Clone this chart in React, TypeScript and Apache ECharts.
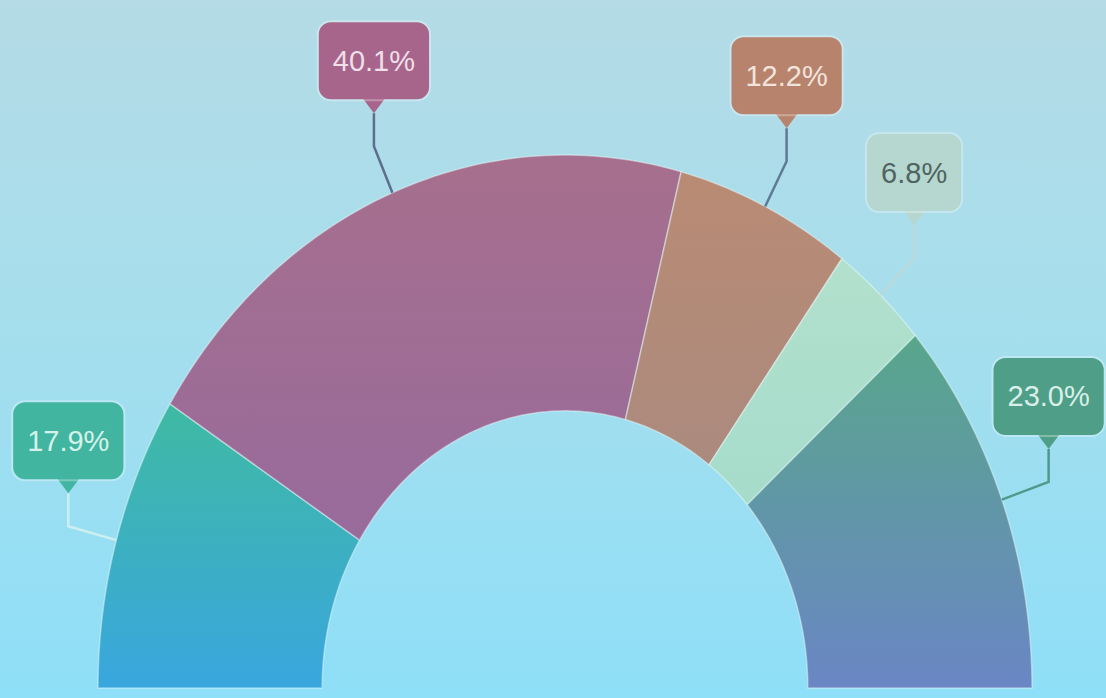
import React, { useEffect, useRef } from "react";
import * as echarts from "echarts";

// ---- data ----
const segments = ["Segment A", "Segment B", "Segment C", "Segment D", "Segment E"];
const shares = [17.9, 40.1, 12.2, 6.8, 23.0];
const labelTexts = shares.map((v) => v.toFixed(1) + "%");

// ---- styles ----
const sliceTop = ["#3fbaa3", "#a66f8d", "#b98b74", "#b2e0cd", "#58a68b"];
const sliceBottom = ["#39a6de", "#986b9c", "#ab8a7e", "#a6dccb", "#6a86c4"];
const boxColors = ["#41b5a0", "#a7658b", "#b8836c", "#b5d7cf", "#4f9f88"];
const textColors = ["#d6f1ea", "#eedfe8", "#f1e4dc", "#51645f", "#d9efe8"];
const lineColors = ["#cdeff0", "#5d6f8c", "#5f7a95", "#bcd9d9", "#4e9a8a"];
const INNER = 0.52;

export default function App() {
  const ref = useRef<HTMLDivElement>(null);

  useEffect(() => {
    if (!ref.current) return;
    const chart = echarts.init(ref.current, null, { renderer: "svg" });
    const total = shares.reduce((a, b) => a + b, 0);

    const renderItem = (params: any, api: any) => {
      const i = params.dataIndex;
      const before = shares.slice(0, i).reduce((a, b) => a + b, 0);
      const a0 = Math.PI * (1 - before / total);
      const a1 = Math.PI * (1 - (before + api.value(2)) / total);
      const steps = Math.max(8, Math.ceil(Math.abs(a0 - a1) / (Math.PI / 180)));
      const pts: number[][] = [];
      for (let k = 0; k <= steps; k++) {
        const a = a0 + ((a1 - a0) * k) / steps;
        pts.push(api.coord([Math.cos(a), Math.sin(a)]));
      }
      for (let k = steps; k >= 0; k--) {
        const a = a0 + ((a1 - a0) * k) / steps;
        pts.push(api.coord([INNER * Math.cos(a), INNER * Math.sin(a)]));
      }
      const mid = (a0 + a1) / 2;
      const anchor = api.coord([Math.cos(mid), Math.sin(mid)]);
      const elbow = [anchor[0] + 50 * Math.cos(mid), anchor[1] - 50 * Math.sin(mid)];
      const tip = [elbow[0], elbow[1] - 33];
      const triH = 14;
      const triW = 12;
      const boxBottom = tip[1] - triH;

      return {
        type: "group",
        children: [
          {
            type: "polygon",
            shape: { points: pts },
            style: {
              fill: new echarts.graphic.LinearGradient(0, 0, 0, 1, [
                { offset: 0, color: sliceTop[i] },
                { offset: 1, color: sliceBottom[i] },
              ]),
              stroke: "rgba(235,250,250,0.45)",
              lineWidth: 1.5,
            },
          },
          {
            type: "polyline",
            shape: { points: [anchor, elbow, tip] },
            style: { stroke: lineColors[i], lineWidth: 2.5, fill: null },
          },
          {
            type: "polygon",
            shape: {
              points: [
                [tip[0], tip[1]],
                [tip[0] - triW, boxBottom - 2],
                [tip[0] + triW, boxBottom - 2],
              ],
            },
            style: { fill: boxColors[i] },
          },
          {
            type: "text",
            style: {
              text: labelTexts[i],
              x: tip[0],
              y: boxBottom,
              align: "center",
              verticalAlign: "bottom",
              fontSize: 29,
              fontFamily: "Liberation Sans, Arial, sans-serif",
              fill: textColors[i],
              backgroundColor: boxColors[i],
              borderColor: "rgba(255,255,255,0.3)",
              borderWidth: 2,
              borderRadius: 12,
              padding: [24, 14, 24, 14],
            },
          },
        ],
      };
    };

    chart.setOption({
      animation: false,
      backgroundColor: "transparent",
      grid: { left: 98, top: 155, width: 934, height: 533 },
      xAxis: { type: "value", min: -1, max: 1, show: false },
      yAxis: { type: "value", min: 0, max: 1, show: false },
      series: [
        {
          type: "custom",
          clip: false,
          renderItem,
          encode: { x: 0, y: 1 },
          data: shares.map((v, i) => ({ name: segments[i], value: [0, 0.5, v] })),
        },
      ],
    });

    return () => chart.dispose();
  }, []);

  return (
    <div
      ref={ref}
      style={{
        position: "fixed",
        left: 0,
        top: 0,
        width: 1106,
        height: 698,
        background:
          "linear-gradient(180deg, #b4dbe6 0%, #a6deec 45%, #8edff8 100%)",
      }}
    />
  );
}
